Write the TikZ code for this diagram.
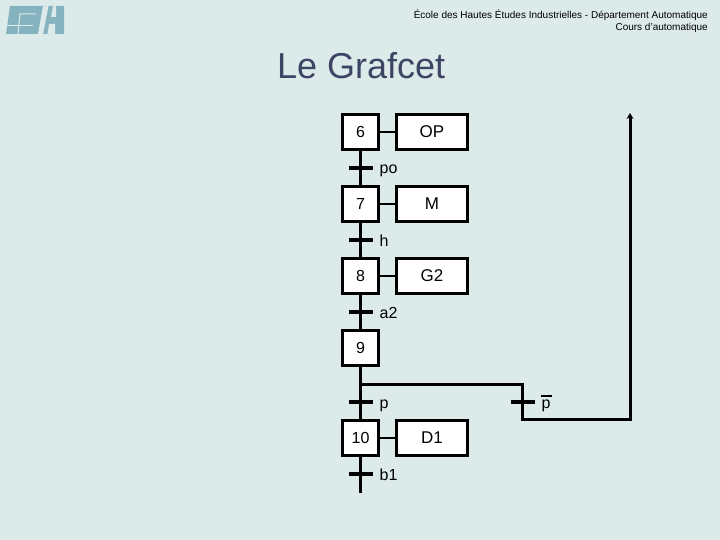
\documentclass[tikz,border=0pt]{standalone}
\usepackage{xcolor}
\usepackage{fontspec}
\setmainfont{Liberation Sans}
\usetikzlibrary{arrows.meta,positioning}
\definecolor{slidebg}{HTML}{DDEAEA}
\definecolor{logoblue}{HTML}{86B3C0}
\definecolor{titleblue}{HTML}{3C4664}

\begin{document}
\begin{tikzpicture}[
  x=1pt, y=-1pt,
  font=\fontsize{16}{19}\selectfont,
  etape/.style={draw, line width=3pt, fill=white, minimum width=36pt, minimum height=35pt, inner sep=0pt},
  action/.style={draw, line width=3pt, fill=white, minimum width=71pt, minimum height=35pt, inner sep=0pt, font=\fontsize{17}{20}\selectfont},
  trans/.style={fill=black, minimum width=24pt, minimum height=4pt, inner sep=0pt, outer sep=0pt},
  cond/.style={right=7pt of #1, inner sep=0pt, text height=14pt, text depth=2pt},
  lien/.style={line width=2pt},
  flow/.style={line width=3pt},
]
% slide background and logo
\fill[slidebg] (0,0) rectangle (720,540);
\useasboundingbox (0,0) rectangle (720,540);
\fill[logoblue] (10,6) -- (64,6) -- (64,34) -- (6,34) -- cycle;
\fill[slidebg] (43,6) -- (48.5,6) -- (43,34) -- (38,34) -- cycle;
\fill[slidebg] (53,6) -- (56,6) -- (56,17) -- (51,17) -- cycle;
\fill[slidebg] (49,24) -- (55,24) -- (55,34) -- (47.5,34) -- cycle;
\draw[slidebg, line width=1.3pt] (6,25.5) -- (33,25.5);
\draw[slidebg, line width=1pt] (36,14) -- (20,14) -- (18,34);
% header and title
\node[anchor=north east, align=right, inner sep=0pt, font=\fontsize{10}{12}\selectfont] (head) at (708,10)
  {École des Hautes Études Industrielles - Département Automatique\\Cours d'automatique};
\node[anchor=west, inner sep=0pt, text=titleblue, font=\fontsize{36}{40}\selectfont] (title) at (277,66) {Le Grafcet};
% steps
\node[etape] (e6) at (360.5,132) {6};
\node[action, right=15pt of e6] (op) {OP};
\node[trans, below=15pt of e6] (t6) {};
\node[etape, below=15pt of t6] (e7) {7};
\node[action, right=15pt of e7] (m) {M};
\node[trans, below=15pt of e7] (t7) {};
\node[etape, below=15pt of t7] (e8) {8};
\node[action, right=15pt of e8] (g2) {G2};
\node[trans, below=15pt of e8] (t8) {};
\node[etape, below=15pt of t8] (e9) {9};
\coordinate[below=17pt of e9] (div);
\node[trans, below=33pt of e9] (t9) {};
\node[etape, below=15pt of t9] (e10) {10};
\node[action, right=15pt of e10] (d1) {D1};
\node[trans, below=15pt of e10] (t10) {};
\coordinate[below=17pt of t10] (fin);
% branch back
\node[trans, right=138pt of t9] (tb) {};
\coordinate (cb) at (tb |- div);
\coordinate[below=15.5pt of tb] (rb);
\coordinate (top) at (630,113);
\coordinate (rh) at (top |- rb);
% conditions
\node[cond=t6] (po) {po};
\node[cond=t7] (h) {h};
\node[cond=t8] (a2) {a2};
\node[cond=t9] (p) {p};
\node[cond=t10] (b1) {b1};
\node[cond=tb] (pb) {\makebox[0pt][l]{\hspace{-1pt}\raisebox{11.5pt}{\rule{11.5pt}{2pt}}}p};
% links
\draw[lien] (e6) -- (op);
\draw[lien] (e7) -- (m);
\draw[lien] (e8) -- (g2);
\draw[lien] (e10) -- (d1);
\draw[flow] (e6) -- (t6);
\draw[flow] (t6) -- (e7);
\draw[flow] (e7) -- (t7);
\draw[flow] (t7) -- (e8);
\draw[flow] (e8) -- (t8);
\draw[flow] (t8) -- (e9);
\draw[flow] (e9) -- (t9);
\draw[flow] (t9) -- (e10);
\draw[flow] (e10) -- (t10);
\draw[flow] (t10) -- (fin);
\draw[flow] (div) -- (cb) -- (tb);
\draw[flow, -{Stealth[length=6pt,width=7pt]}] (tb) -- (rb) -- (rh) -- (top);
\end{tikzpicture}
\end{document}
